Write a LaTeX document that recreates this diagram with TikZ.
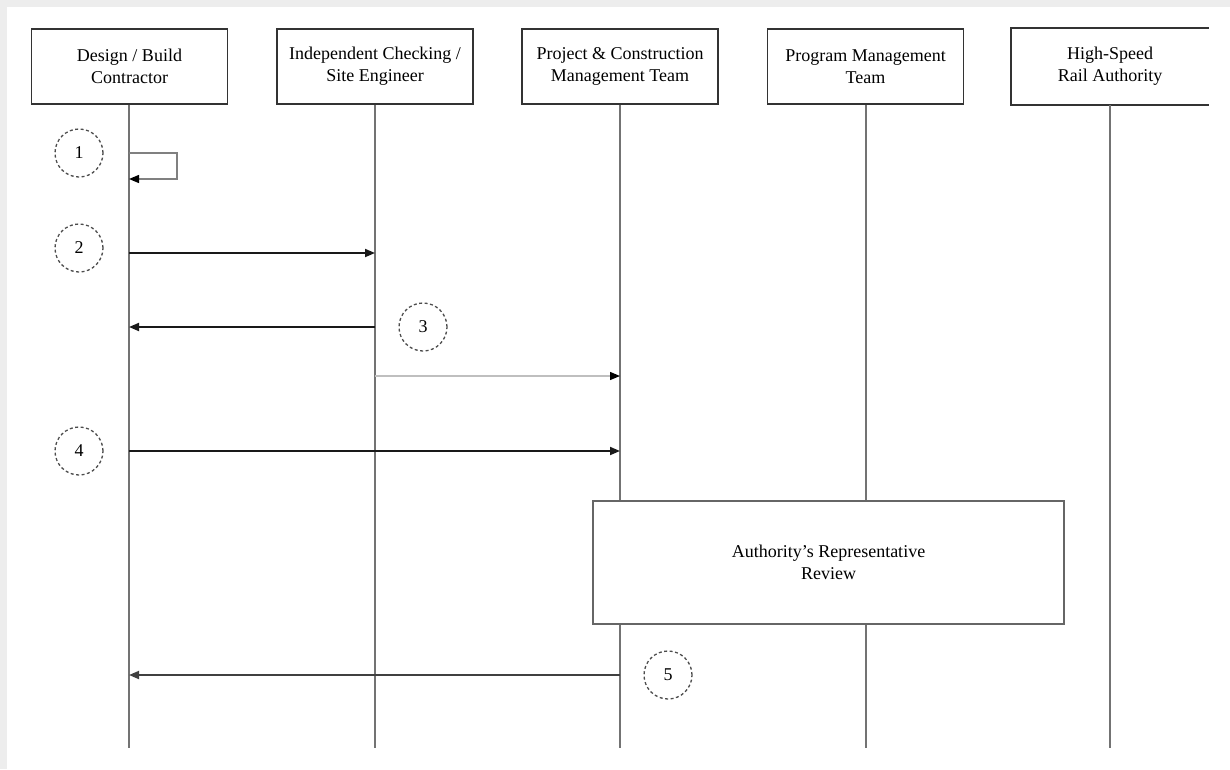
\documentclass[tikz,border=0pt]{standalone}
\usepackage{fontspec}
\setmainfont{Liberation Serif}
\usetikzlibrary{arrows.meta}
\begin{document}
\begin{tikzpicture}[x=1pt,y=-1pt,
  txt/.style={font=\fontsize{18}{22}\selectfont},
  headbox/.style={txt,draw=black!80,line width=1.8pt,minimum width=196pt,minimum height=75pt,inner sep=0pt,align=center},
  lifeline/.style={draw=black!55,line width=2pt},
  msg/.style={draw=black!90,line width=1.8pt,-{Triangle[length=10pt,width=8pt]}},
  msglight/.style={draw=black!25,line width=1.3pt,-{Triangle[length=10pt,width=8pt,fill=black,color=black]}},
  selfmsg/.style={draw=black!50,line width=1.3pt,-{Triangle[length=10pt,width=8pt,color=black]}},
  numcirc/.style={circle,draw=black!70,dashed,dash pattern=on 3pt off 2.5pt,line width=1.3pt,minimum size=48pt,inner sep=0pt,txt},
  reviewbox/.style={txt,draw=black!60,line width=1.5pt,fill=white,minimum width=471pt,minimum height=123pt,align=center}
]
\useasboundingbox (0,0) rectangle (1230,769);
\fill[black!7] (0,0) rectangle (1230,7);
\fill[black!7] (0,0) rectangle (7,769);

% header boxes
\node[headbox] (h1) at (129.5,66.5) {Design / Build\\Contractor};
\node[headbox] (h2) at (375,66.5) {Independent Checking /\\Site Engineer};
\node[headbox] (h3) at (620,66.5) {Project \& Construction\\Management Team};
\node[headbox] (h4) at (865.5,66.5) {Program Management\\Team};
\node[headbox,draw=none] (h5) at (1110,66.5) {High-Speed\\Rail Authority};
\draw[black!80,line width=1.8pt] (h5.north east) -- (h5.north west) -- (h5.south west) -- (h5.south east);

% lifeline ends
\coordinate (e1) at (129,748);
\coordinate (e2) at (375,748);
\coordinate (e3) at (620,748);
\coordinate (e4) at (866,748);
\coordinate (e5) at (1110,748);
\draw[lifeline] (h1.south -| e1) -- (e1);
\draw[lifeline] (h2.south -| e2) -- (e2);
\draw[lifeline] (h3.south -| e3) -- (e3);
\draw[lifeline] (h4.south -| e4) -- (e4);
\draw[lifeline] (h5.south -| e5) -- (e5);

% step 1: self message
\coordinate (s1a) at (129,153);
\coordinate (s1r) at (177,166);
\coordinate (s1b) at (129,179);
\draw[selfmsg] (s1a) -| (s1r) |- (s1b);

% step 2
\coordinate (m2a) at (129,253);
\coordinate (m2b) at (375,253);
\draw[msg] (m2a) -- (m2b);

% step 3
\coordinate (m3a) at (375,327);
\coordinate (m3b) at (129,327);
\draw[msg] (m3a) -- (m3b);
\coordinate (m3c) at (375,376);
\coordinate (m3d) at (620,376);
\draw[msglight] (m3c) -- (m3d);

% step 4
\coordinate (m4a) at (129,451);
\coordinate (m4b) at (620,451);
\draw[msg] (m4a) -- (m4b);

% review box
\node[reviewbox] (rev) at (828.5,562.5) {Authority’s Representative\\Review};

% step 5
\coordinate (m5a) at (620,675);
\coordinate (m5b) at (129,675);
\draw[msg,draw=black!75] (m5a) -- (m5b);

% numbered circles
\node[numcirc] (c1) at (79,153) {1};
\node[numcirc] (c2) at (79,248) {2};
\node[numcirc] (c3) at (423,327) {3};
\node[numcirc] (c4) at (79,451) {4};
\node[numcirc] (c5) at (668,675) {5};
\end{tikzpicture}
\end{document}
